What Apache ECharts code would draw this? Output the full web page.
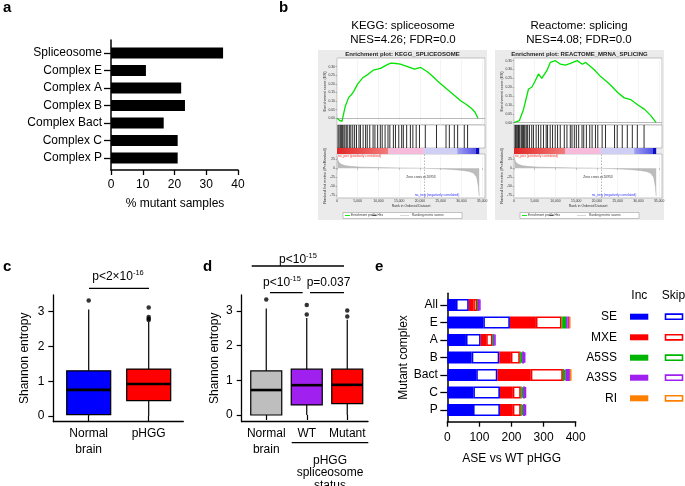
<!DOCTYPE html>
<html>
<head>
<meta charset="utf-8">
<script src="https://cdn.jsdelivr.net/npm/echarts@6/dist/echarts.min.js"></script>
<style>
  html, body { margin: 0; padding: 0; background: #fff; }
  #chart { width: 685px; height: 486px; }
</style>
</head>
<body>
<div id="chart"></div>
<script>
const FONT = '"Liberation Sans", Arial, Helvetica, sans-serif'

// a: % of samples with a mutation per spliceosome complex
const complexNames = ['Spliceosome', 'Complex E', 'Complex A', 'Complex B', 'Complex Bact', 'Complex C', 'Complex P']
const mutantPct = [35.3, 11, 22.1, 23.3, 16.6, 21, 21]

// b: running enrichment score
const keggEsRank = [0, 600, 1200, 2000, 2800, 3400, 4000, 5000, 6200, 7500, 8800, 10500, 12000, 13000, 14200, 15300, 17000, 18700, 20200, 21800, 23000, 24300, 25500, 26700, 28500, 29900, 31200, 32400, 33300, 34000]
const keggEsScore = [0, -0.012, -0.018, 0.07, 0.12, 0.135, 0.155, 0.2, 0.235, 0.255, 0.28, 0.29, 0.31, 0.32, 0.318, 0.315, 0.3, 0.285, 0.295, 0.27, 0.245, 0.215, 0.19, 0.165, 0.13, 0.1, 0.08, 0.058, 0.035, 0]
const keggHits = [250, 500, 800, 1050, 1300, 1650, 1900, 2250, 2600, 3050, 3350, 3800, 4250, 4700, 5300, 5650, 6300, 6900, 7300, 7900, 8700, 9150, 9800, 10450, 10900, 11600, 12300, 12750, 13600, 14100, 14900, 15600, 16000, 16800, 17700, 18300, 19100, 19900, 21300, 24000, 26300, 27100, 28300, 29100, 30700, 31500]
const keggEsTicks = [0, 0.05, 0.1, 0.15, 0.2, 0.25, 0.3]

const reactomeEsRank = [0, 1300, 2300, 3500, 4300, 5100, 5900, 6700, 7950, 8750, 10000, 11200, 12400, 13600, 15250, 16500, 17300, 19300, 20900, 22200, 23400, 25000, 26600, 28200, 29900, 31500, 33000, 34300]
const reactomeEsScore = [0, 0.012, 0.075, 0.19, 0.2, 0.235, 0.275, 0.25, 0.295, 0.34, 0.35, 0.33, 0.325, 0.335, 0.35, 0.33, 0.34, 0.3, 0.26, 0.235, 0.21, 0.17, 0.14, 0.13, 0.1, 0.075, 0.04, 0]
const reactomeHits = [240, 400, 650, 900, 1100, 1250, 1450, 1860, 2000, 2260, 2450, 2670, 3070, 3300, 3720, 4280, 4690, 5340, 5900, 6470, 7110, 7760, 8090, 8730, 9300, 9940, 10510, 11160, 12130, 12770, 13580, 13990, 14550, 15040, 15600, 16410, 16820, 17460, 18270, 18840, 19650, 20210, 21260, 22070, 24250, 24900, 26110, 27330, 28540, 29750, 31370]
const reactomeEsTicks = [0, 0.05, 0.1, 0.15, 0.2, 0.25, 0.3, 0.35]

// shared pre-ranked list
const metricRank = [0, 150, 500, 1000, 2000, 3500, 6000, 10000, 15000, 20953, 25000, 28000, 30500, 32000, 33000, 33700, 34100, 34300]
const metricScore = [34, 24, 16, 11, 7.5, 5, 3.2, 2, 1, 0, -1.5, -3.5, -6, -9, -14, -25, -50, -78]
const metricTicks = [-75, -50, -25, 0, 25]
const rankTicks = [0, 5000, 10000, 15000, 20000, 25000, 30000, 35000]
const zeroCross = 20953
const bandStart = [0, 12400, 20953, 29000, 33500]
const bandEnd = [12400, 20953, 29000, 33500, 34300]

// c: Shannon entropy boxes [min, q1, median, q3, max]
const cGroups = ['Normal\nbrain', 'pHGG']
const cBoxes = [[0, 0.04, 0.75, 1.3, 3.06], [0, 0.44, 0.92, 1.35, 2.7]]
const cOutliers = [[0, 3.32], [1, 2.76], [1, 2.8], [1, 2.85], [1, 3.12]]

// d: by spliceosome status
const dGroups = ['Normal\nbrain', 'WT', 'Mutant']
const dBoxes = [[0, 0, 0.72, 1.27, 3.07], [0, 0.29, 0.86, 1.32, 2.8], [0, 0.33, 0.87, 1.32, 2.75]]
const dOutliers = [[0, 3.33], [1, 2.9], [1, 3.17], [2, 2.84], [2, 3.01]]
const entropyTicks = [0, 1, 2, 3]

// e: alternative splicing events vs WT pHGG
const eComplexes = ['All', 'E', 'A', 'B', 'Bact', 'C', 'P']
const eventTypes = ['SE', 'MXE', 'A5SS', 'A3SS', 'RI']
const seInc = [27, 112, 58, 76, 90, 81, 80]
const seSkip = [40, 83, 46, 86, 66, 83, 84]
const mxeInc = [14, 81, 17, 36, 104, 40, 40]
const mxeSkip = [12, 80, 20, 28, 100, 25, 25]
const a5ssInc = [1, 4, 1, 3, 4, 3, 3]
const a5ssSkip = [1, 10, 1, 4, 4, 4, 4]
const a3ssInc = [5, 4, 4, 6, 8, 6, 6]
const a3ssSkip = [3, 5, 3, 4, 6, 3, 3]
const riInc = [0, 2, 0, 0, 2, 0, 0]
const riSkip = [0, 1, 0, 0, 1, 0, 0]

const eventColors = ['#0000ff', '#ff0000', '#00b400', '#a020f0', '#ff8000']
const incCounts = [seInc, mxeInc, a5ssInc, a3ssInc, riInc]
const skipCounts = [seSkip, mxeSkip, a5ssSkip, a3ssSkip, riSkip]

const grid = []
const xAxis = []
const yAxis = []
const series = []
const graphic = []

function addGrid(g, x, y) {
  grid.push(Object.assign({ outerBoundsMode: 'none', containLabel: false }, g))
  const i = grid.length - 1
  xAxis.push(Object.assign({ gridIndex: i }, x))
  yAxis.push(Object.assign({ gridIndex: i }, y))
  return i
}

function bareValue(min, max) {
  return {
    type: 'value', min: min, max: max,
    axisLine: { show: false }, axisTick: { show: false },
    axisLabel: { show: false }, splitLine: { show: false }
  }
}

function lineOnly(min, max, w) {
  const a = bareValue(min, max)
  a.axisLine = { show: true, onZero: false, lineStyle: { color: '#000', width: w || 1.5 } }
  return a
}

function text(x, y, str, size, extra) {
  const st = Object.assign({
    text: str, fontSize: size, fontFamily: FONT, fill: '#000',
    align: 'center', verticalAlign: 'middle'
  }, extra || {})
  const el = { type: 'text', x: x, y: y, style: st, z: 100 }
  if (extra && extra.rotation) {
    el.rotation = extra.rotation
    delete st.rotation
  }
  return el
}

function hline(x1, x2, y, w, color) {
  return { type: 'line', shape: { x1: x1, y1: y, x2: x2, y2: y }, style: { stroke: color || '#000', lineWidth: w || 1.3 }, z: 100 }
}

const supRich = {
  m: { fontSize: 12, lineHeight: 16, fontFamily: FONT },
  s: { fontSize: 7.5, lineHeight: 8, verticalAlign: 'top', fontFamily: FONT }
}

// ---------- panel a ----------
const aBar = addGrid(
  { left: 111, top: 44.25, width: 127, height: 122.5 },
  { type: 'value', min: 0, max: 40, show: false },
  {
    type: 'category', inverse: true, data: complexNames,
    axisLine: { show: false },
    axisTick: { show: true, alignWithLabel: true, length: 7, lineStyle: { color: '#000', width: 1.3 } },
    axisLabel: { color: '#000', fontSize: 12, fontFamily: FONT, margin: 9, interval: 0 },
    splitLine: { show: false }
  }
)
const aAxis = addGrid(
  { left: 111, top: 40, width: 127, height: 130 },
  {
    type: 'value', min: 0, max: 40, interval: 10,
    axisLine: { show: true, onZero: false, lineStyle: { color: '#000', width: 1.5 } },
    axisTick: { show: true, length: 5, lineStyle: { color: '#000', width: 1.3 } },
    axisLabel: { color: '#000', fontSize: 12, fontFamily: FONT, margin: 9 },
    splitLine: { show: false }
  },
  lineOnly(0, 1)
)
series.push({
  type: 'bar', xAxisIndex: aBar, yAxisIndex: aBar, data: mutantPct,
  barWidth: 11, itemStyle: { color: '#000' }
})
graphic.push(text(175, 204, '% mutant samples', 12))
graphic.push(text(3, 8, 'a', 15, { align: 'left', fontWeight: 'bold' }))

// ---------- panel b ----------
const rankMax = 35700
const bandFills = [
  new echarts.graphic.LinearGradient(0, 0, 1, 0, [{ offset: 0, color: '#e32626' }, { offset: 1, color: '#f27c7c' }]),
  '#f6badb',
  '#cfcff6',
  new echarts.graphic.LinearGradient(0, 0, 1, 0, [{ offset: 0, color: '#a0a0f2' }, { offset: 1, color: '#5252e6' }]),
  '#0c0cc6'
]

function addGsea(x0, title, esRank, esScore, hits, esMin, esMax, esTicks) {
  const inL = x0 + 19
  const inW = 148
  const frame = { show: true, backgroundColor: '#fff', borderColor: '#9a9a9a', borderWidth: 0.6 }
  const small = { fontSize: 3.4, color: '#333', fontFamily: FONT }

  graphic.push({ type: 'rect', shape: { x: x0, y: 50, width: 169, height: 170 }, style: { fill: '#ebebeb' }, z: -10 })
  graphic.push(text(x0 + 84.5, 54.5, title, 6, { fontWeight: 'bold', fill: '#222' }))

  const esG = addGrid(
    Object.assign({ left: inL, top: 58, width: inW, height: 67 }, frame),
    {
      type: 'value', min: 0, max: rankMax, interval: 5000,
      axisLine: { show: false }, axisTick: { show: false }, axisLabel: { show: false },
      splitLine: { show: true, lineStyle: { color: '#ededed', width: 0.6 } }
    },
    {
      type: 'value', min: esMin, max: esMax,
      axisLine: { show: false },
      axisTick: { show: true, customValues: esTicks, length: 1.5, lineStyle: { color: '#777', width: 0.5 } },
      axisLabel: Object.assign({ customValues: esTicks, margin: 2, formatter: v => v.toFixed(2) }, small),
      splitLine: { show: false }
    }
  )
  series.push({
    type: 'line', xAxisIndex: esG, yAxisIndex: esG,
    data: esRank.map((r, i) => [r, esScore[i]]),
    symbol: 'none', lineStyle: { color: '#00e400', width: 1.3 },
    markLine: {
      silent: true, symbol: 'none', label: { show: false },
      lineStyle: { color: '#8a8a8a', width: 0.6, type: 'solid' },
      data: [{ yAxis: 0 }]
    }
  })

  const hitG = addGrid(
    Object.assign({ left: inL, top: 125, width: inW, height: 23 }, frame),
    bareValue(0, rankMax), bareValue(0, 1)
  )
  series.push({
    type: 'custom', xAxisIndex: hitG, yAxisIndex: hitG,
    data: hits.map(h => [h, 0]), encode: { x: 0, y: 1 },
    renderItem: (params, api) => {
      const a = api.coord([api.value(0), 0])
      const b = api.coord([api.value(0), 1])
      return { type: 'line', shape: { x1: a[0], y1: a[1], x2: b[0], y2: b[1] }, style: { stroke: '#151515', lineWidth: 0.9 } }
    }
  })

  const barG = addGrid(
    { left: inL, top: 148, width: inW, height: 6 },
    bareValue(0, rankMax), bareValue(0, 1)
  )
  series.push({
    type: 'custom', xAxisIndex: barG, yAxisIndex: barG,
    data: bandStart.map((s, i) => [s, bandEnd[i], i]), encode: { x: [0, 1] },
    renderItem: (params, api) => {
      const p0 = api.coord([api.value(0), 0])
      const p1 = api.coord([api.value(1), 1])
      return {
        type: 'rect',
        shape: { x: p0[0], y: p1[1], width: p1[0] - p0[0], height: p0[1] - p1[1] },
        style: { fill: bandFills[api.value(2)] }
      }
    }
  })

  const rankG = addGrid(
    Object.assign({ left: inL, top: 154, width: inW, height: 44 }, frame),
    {
      type: 'value', min: 0, max: rankMax, interval: 5000,
      axisLine: { show: false },
      axisTick: { show: true, customValues: rankTicks, length: 1.5, lineStyle: { color: '#777', width: 0.5 } },
      axisLabel: Object.assign({ customValues: rankTicks, margin: 1.8, formatter: v => v.toLocaleString('en-US') }, small),
      splitLine: { show: true, lineStyle: { color: '#ededed', width: 0.6 } }
    },
    {
      type: 'value', min: -83, max: 40,
      axisLine: { show: false },
      axisTick: { show: true, customValues: metricTicks, length: 1.5, lineStyle: { color: '#777', width: 0.5 } },
      axisLabel: Object.assign({ customValues: metricTicks, margin: 2 }, small),
      splitLine: { show: false }
    }
  )
  series.push({
    type: 'line', xAxisIndex: rankG, yAxisIndex: rankG,
    data: metricRank.map((r, i) => [r, metricScore[i]]),
    symbol: 'none', lineStyle: { color: '#a8a8a8', width: 0.5 },
    areaStyle: { color: '#bcbcbc', opacity: 1 },
    markLine: {
      silent: true, symbol: 'none', label: { show: false },
      lineStyle: { color: '#888', width: 0.6, type: [1.5, 1.5] },
      data: [{ xAxis: zeroCross }]
    }
  })

  graphic.push(text(inL + 1, 155.6, 'na_pos (positively correlated)', 3.3, { align: 'left', fill: '#ff2a2a' }))
  graphic.push(text(x0 + 103, 176.7, 'Zero cross at ' + zeroCross, 3.3, { fill: '#333' }))
  graphic.push(text(x0 + 119, 194.6, 'na_neg (negatively correlated)', 3.3, { fill: '#3030ff' }))
  graphic.push(text(inL + 74, 206.5, 'Rank in Ordered Dataset', 3.5, { fill: '#333' }))
  graphic.push(text(x0 + 7, 91.5, 'Enrichment score (ES)', 4, { fill: '#333', rotation: Math.PI / 2 }))
  graphic.push(text(x0 + 7, 176, 'Ranked list metric (PreRanked)', 4, { fill: '#333', rotation: Math.PI / 2 }))

  // legend strip
  graphic.push({ type: 'rect', shape: { x: x0 + 25, y: 212.5, width: 119, height: 6 }, style: { fill: '#fff', stroke: '#8c8c8c', lineWidth: 0.5 }, z: 90 })
  graphic.push(hline(x0 + 27, x0 + 32, 215.5, 0.9, '#00e400'))
  graphic.push(text(x0 + 33, 215.5, 'Enrichment profile', 3.2, { align: 'left', fill: '#333' }))
  graphic.push(hline(x0 + 54.5, x0 + 58.5, 215.5, 0.7, '#222'))
  graphic.push(text(x0 + 59.5, 215.5, 'Hits', 3.2, { align: 'left', fill: '#333' }))
  graphic.push(hline(x0 + 82, x0 + 91, 215.5, 0.6, '#bbb'))
  graphic.push(text(x0 + 94, 215.5, 'Ranking metric scores', 3.2, { align: 'left', fill: '#333' }))
}

addGsea(318, 'Enrichment plot: KEGG_SPLICEOSOME', keggEsRank, keggEsScore, keggHits, -0.039, 0.35, keggEsTicks)
addGsea(495, 'Enrichment plot: REACTOME_MRNA_SPLICING', reactomeEsRank, reactomeEsScore, reactomeHits, -0.013, 0.365, reactomeEsTicks)

graphic.push(text(403, 25.5, 'KEGG: spliceosome', 11.5))
graphic.push(text(403, 40, 'NES=4.26; FDR=0.0', 11.5))
graphic.push(text(579, 25.5, 'Reactome: splicing', 11.5))
graphic.push(text(579, 40, 'NES=4.08; FDR=0.0', 11.5))
graphic.push(text(279, 7.5, 'b', 15, { align: 'left', fontWeight: 'bold' }))

// ---------- panels c and d ----------
function boxSeries(gi, rows, fills, boxW) {
  return {
    type: 'custom', xAxisIndex: gi, yAxisIndex: gi,
    data: rows.map((r, i) => [i].concat(r)), encode: { x: 0, y: [1, 2, 3, 4, 5] },
    renderItem: (params, api) => {
      const i = api.value(0)
      const lo = api.coord([i, api.value(1)])
      const q1 = api.coord([i, api.value(2)])
      const md = api.coord([i, api.value(3)])
      const q3 = api.coord([i, api.value(4)])
      const hi = api.coord([i, api.value(5)])
      const cx = lo[0]
      const h = boxW / 2
      const ls = { stroke: '#000', lineWidth: 1.2 }
      return {
        type: 'group',
        children: [
          { type: 'line', shape: { x1: cx, y1: lo[1], x2: cx, y2: q1[1] }, style: ls },
          { type: 'line', shape: { x1: cx, y1: q3[1], x2: cx, y2: hi[1] }, style: ls },
          { type: 'rect', shape: { x: cx - h, y: q3[1], width: boxW, height: q1[1] - q3[1] }, style: { fill: fills[i], stroke: '#000', lineWidth: 1.2 } },
          { type: 'line', shape: { x1: cx - h, y1: md[1], x2: cx + h, y2: md[1] }, style: { stroke: '#000', lineWidth: 2.6 } }
        ]
      }
    }
  }
}

function boxPanel(axisLeft, axisW, boxLeft, boxW, yMin, yMax, groups, boxes, outliers, fills, bw) {
  const bg = addGrid(
    { left: boxLeft, top: 295, width: boxW, height: 126.7 },
    {
      type: 'category', data: groups,
      axisLine: { show: false },
      axisTick: { show: true, alignWithLabel: true, length: 5, lineStyle: { color: '#000', width: 1.2 } },
      axisLabel: { color: '#000', fontSize: 12, lineHeight: 16, fontFamily: FONT, margin: 4, interval: 0 },
      splitLine: { show: false }
    },
    bareValue(yMin, yMax)
  )
  addGrid(
    { left: axisLeft, top: 295, width: axisW, height: 126.7 },
    lineOnly(0, 1, 1.3),
    {
      type: 'value', min: yMin, max: yMax,
      axisLine: { show: true, onZero: false, lineStyle: { color: '#000', width: 1.3 } },
      axisTick: { show: true, customValues: entropyTicks, length: 5, lineStyle: { color: '#000', width: 1.2 } },
      axisLabel: { customValues: entropyTicks, color: '#000', fontSize: 12, fontFamily: FONT, margin: 9 },
      splitLine: { show: false }
    }
  )
  series.push(boxSeries(bg, boxes, fills, bw))
  series.push({
    type: 'scatter', xAxisIndex: bg, yAxisIndex: bg, data: outliers,
    symbolSize: 4.5, itemStyle: { color: '#000' }
  })
}

boxPanel(53.3, 130, 58.7, 120, -0.164, 3.48, cGroups, cBoxes, cOutliers, ['#0000ff', '#ff0000'], 44)
graphic.push(text(25, 358.3, 'Shannon entropy', 12, { rotation: Math.PI / 2 }))
graphic.push(hline(89, 149, 288.3))
graphic.push(text(118, 277, '{m|p<2×10}{s|-16}', 12, { rich: supRich }))
graphic.push(text(3, 267, 'c', 15, { align: 'left', fontWeight: 'bold' }))

boxPanel(241.7, 126.3, 246, 121.5, -0.193, 3.46, dGroups, dBoxes, dOutliers, ['#bebebe', '#a020f0', '#ff0000'], 31)
graphic.push(text(215, 358.3, 'Shannon entropy', 12, { rotation: Math.PI / 2 }))
graphic.push(hline(251.7, 344, 266))
graphic.push(hline(270, 302.7, 292.7))
graphic.push(hline(310, 344, 292.7))
graphic.push(text(298, 259.5, '{m|p<10}{s|-15}', 12, { rich: supRich }))
graphic.push(text(282, 283, '{m|p<10}{s|-15}', 12, { rich: supRich }))
graphic.push(text(328.5, 283, 'p=0.037', 12))
graphic.push(hline(291.7, 368.3, 442.7))
graphic.push(text(330, 454, 'pHGG\nspliceosome\nstatus', 12, { verticalAlign: 'top', lineHeight: 12.6 }))
graphic.push(text(203, 267, 'd', 15, { align: 'left', fontWeight: 'bold' }))

// ---------- panel e ----------
const eBar = addGrid(
  { left: 447.3, top: 296.25, width: 128.4, height: 122.5 },
  { type: 'value', min: 0, max: 400, show: false },
  {
    type: 'category', inverse: true, data: eComplexes,
    axisLine: { show: false },
    axisTick: { show: true, alignWithLabel: true, length: 7, lineStyle: { color: '#000', width: 1.3 } },
    axisLabel: { color: '#000', fontSize: 12, fontFamily: FONT, margin: 9.5, interval: 0 },
    splitLine: { show: false }
  }
)
addGrid(
  { left: 447.3, top: 293.3, width: 128.4, height: 128.4 },
  {
    type: 'value', min: 0, max: 400, interval: 100,
    axisLine: { show: true, onZero: false, lineStyle: { color: '#000', width: 1.5 } },
    axisTick: { show: true, length: 5, lineStyle: { color: '#000', width: 1.3 } },
    axisLabel: { color: '#000', fontSize: 12, fontFamily: FONT, margin: 10 },
    splitLine: { show: false }
  },
  lineOnly(0, 1)
)
eventTypes.forEach((t, k) => {
  const c = eventColors[k]
  series.push({
    type: 'bar', name: t + ' Inc', stack: 'ase', xAxisIndex: eBar, yAxisIndex: eBar,
    data: incCounts[k].map(v => v || null), barWidth: 12,
    itemStyle: { color: c }
  })
  series.push({
    type: 'bar', name: t + ' Skip', stack: 'ase', xAxisIndex: eBar, yAxisIndex: eBar,
    data: skipCounts[k].map(v => v || null), barWidth: 12,
    itemStyle: { color: '#fff', borderColor: c, borderWidth: 1.6 }
  })
})
graphic.push(text(403.3, 357.5, 'Mutant complex', 12, { rotation: Math.PI / 2 }))
graphic.push(text(511.7, 458.3, 'ASE vs WT pHGG', 12))
graphic.push(text(375, 267, 'e', 15, { align: 'left', fontWeight: 'bold' }))

// legend for e
graphic.push(text(639.3, 295.5, 'Inc', 12))
graphic.push(text(673.5, 295.5, 'Skip', 12))
const legendRows = [316.7, 337.3, 357.7, 377.7, 398.3]
eventTypes.forEach((t, k) => {
  const y = legendRows[k]
  graphic.push(text(617, y, t, 12, { align: 'right' }))
  graphic.push({ type: 'rect', shape: { x: 630, y: y - 3, width: 18.3, height: 6 }, style: { fill: eventColors[k] }, z: 100 })
  graphic.push({ type: 'rect', shape: { x: 665.5, y: y - 2.6, width: 17, height: 5.2 }, style: { fill: '#fff', stroke: eventColors[k], lineWidth: 1.6 }, z: 100 })
})

const chart = echarts.init(document.getElementById('chart'), null, { renderer: 'canvas' })
chart.setOption({
  animation: false,
  backgroundColor: '#fff',
  textStyle: { fontFamily: FONT },
  grid: grid,
  xAxis: xAxis,
  yAxis: yAxis,
  series: series,
  graphic: { elements: graphic }
})
</script>
</body>
</html>
